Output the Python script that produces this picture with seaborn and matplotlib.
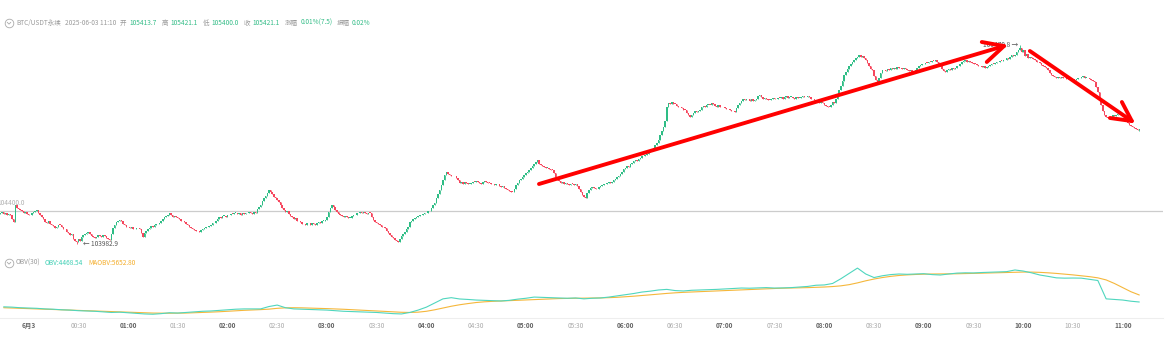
import numpy as np
import pandas as pd
import matplotlib
matplotlib.use("Agg")
import matplotlib.pyplot as plt
import seaborn as sns
from matplotlib.lines import Line2D

# ---------------- data ----------------
# 1-minute BTC/USDT perpetual candles, minutes counted from 2025-06-03 00:00
start_minute = -17
first_open = 104362.0
close_prices = [
    104375, 104390, 104368, 104380, 104355, 104362, 104345, 104300, 104262, 104470,
    104440, 104425, 104410, 104395, 104370, 104385, 104360,
    104352, 104345, 104370, 104390, 104405, 104415, 104380, 104350, 104320, 104300,
    104265, 104250, 104275, 104240, 104230, 104210, 104188, 104205, 104230, 104226,
    104200, 104170, 104180, 104140, 104120, 104101, 104110, 104050, 104030, 104010,
    104045, 104030, 104070, 104095, 104110, 104125, 104140, 104115, 104090, 104075,
    104064, 104080, 104100, 104085, 104070, 104095, 104089, 104060, 104045, 104039,
    104110, 104190, 104230, 104260, 104275, 104290, 104270, 104240, 104226, 104205,
    104195, 104188, 104200, 104180, 104170, 104190, 104185, 104176, 104120, 104075,
    104120, 104150, 104175, 104190, 104210, 104200, 104225, 104240, 104235, 104255,
    104270, 104300, 104320, 104335, 104350, 104380, 104350, 104330, 104340, 104320,
    104313, 104295, 104280, 104270, 104263, 104240, 104220, 104200, 104185, 104170,
    104163, 104150, 104145, 104139, 104160, 104175, 104188, 104200, 104195, 104215,
    104230, 104245, 104251, 104280, 104300, 104325, 104310, 104335, 104340, 104330,
    104350, 104345, 104365, 104360, 104375, 104380, 104365, 104370, 104355, 104372,
    104363, 104380, 104370, 104390, 104375, 104360, 104385, 104375, 104420, 104450,
    104480, 104520, 104560, 104590, 104620, 104660, 104640, 104610, 104580, 104560,
    104537, 104510, 104470, 104440, 104410, 104388, 104400, 104360, 104338, 104320,
    104300, 104310, 104280, 104270, 104263, 104240, 104235, 104226, 104245, 104250,
    104230, 104255, 104240, 104226, 104250, 104265, 104250, 104275, 104280, 104288,
    104330, 104390, 104440, 104470, 104450, 104410, 104390, 104360, 104350, 104335,
    104325, 104340, 104320, 104310, 104313, 104335, 104350, 104345, 104370, 104380,
    104388, 104370, 104390, 104375, 104360, 104380, 104375, 104330, 104290, 104263,
    104250, 104235, 104220, 104200, 104195, 104188, 104150, 104120, 104100, 104080,
    104064, 104040, 104030, 104014, 104050, 104085, 104110, 104139, 104170, 104200,
    104263, 104280, 104300, 104310, 104330, 104340, 104350, 104345, 104360, 104370,
    104380, 104395, 104400, 104440, 104470, 104500, 104560, 104610, 104661, 104720,
    104790, 104850, 104880, 104860, 104850, 104840, 104830, 104836, 104810, 104780,
    104749, 104760, 104740, 104755, 104750, 104735, 104736, 104750, 104765, 104760,
    104775, 104760, 104749, 104740, 104755, 104770, 104760, 104750, 104749, 104735,
    104730, 104724, 104740, 104730, 104715, 104700, 104705, 104686, 104670, 104665,
    104650, 104640, 104637, 104680, 104720, 104749, 104780, 104800, 104820, 104848,
    104870, 104890, 104910, 104930, 104960, 104990, 105010, 105030, 104990, 104975,
    104960, 104950, 104935, 104940, 104925, 104915, 104910, 104870, 104820, 104786,
    104770, 104750, 104760, 104736, 104745, 104730, 104720, 104740, 104735, 104725,
    104736, 104710, 104680, 104640, 104600, 104575, 104560, 104620, 104660, 104686,
    104700, 104690, 104670, 104680, 104700, 104711, 104720, 104740, 104730, 104750,
    104760, 104745, 104761, 104790, 104800, 104820, 104840, 104860, 104880, 104920,
    104935, 104960, 104950, 104980, 105000, 105020, 105035, 105025, 105050, 105060,
    105080, 105090, 105097, 105110, 105130, 105150, 105170, 105190, 105222, 105250,
    105290, 105340, 105400, 105450, 105520, 105700, 105740, 105730, 105760, 105735,
    105732, 105710, 105690, 105700, 105680, 105660, 105657, 105620, 105590, 105570,
    105600, 105620, 105640, 105630, 105650, 105657, 105690, 105710, 105700, 105720,
    105725, 105720, 105740, 105730, 105710, 105700, 105715, 105695, 105690, 105700,
    105680, 105670, 105665, 105657, 105640, 105650, 105633, 105680, 105720, 105750,
    105770, 105790, 105782, 105800, 105790, 105775, 105790, 105770, 105782, 105800,
    105830, 105844, 105820, 105800, 105810, 105790, 105785, 105782, 105800, 105810,
    105795, 105790, 105810, 105807, 105820, 105800, 105815, 105830, 105810, 105819,
    105825, 105810, 105800, 105815, 105805, 105807, 105820, 105830, 105815, 105825,
    105830, 105819, 105800, 105790, 105780, 105770, 105760, 105745, 105760, 105740,
    105720, 105710, 105700, 105695, 105720, 105760, 105745, 105800, 105850, 105906,
    105960, 106020, 106093, 106130, 106170, 106200, 106230, 106260, 106280, 106300,
    106320, 106342, 106320, 106330, 106305, 106280, 106240, 106200, 106170, 106155,
    106080, 106030, 106006, 106060, 106120, 106150, 106155, 106140, 106170, 106160,
    106175, 106165, 106180, 106170, 106190, 106175, 106185, 106170, 106180, 106165,
    106150, 106140, 106155, 106135, 106131, 106160, 106180, 106200, 106215, 106225,
    106230, 106245, 106240, 106260, 106255, 106270, 106265, 106280, 106260, 106230,
    106200, 106170, 106140, 106131, 106150, 106165, 106155, 106175, 106170, 106180,
    106200, 106210, 106230, 106250, 106265, 106280, 106260, 106270, 106250, 106240,
    106235, 106230, 106215, 106200, 106210, 106190, 106200, 106180, 106195, 106210,
    106220, 106235, 106230, 106243, 106260, 106250, 106270, 106265, 106275, 106280,
    106300, 106290, 106320, 106340, 106330, 106342, 106380, 106410, 106429, 106380,
    106400, 106330, 106350, 106310, 106320, 106300, 106290, 106280, 106260, 106250,
    106240, 106220, 106210, 106193, 106180, 106150, 106120, 106090, 106075, 106068,
    106060, 106070, 106055, 106065, 106050, 106056, 106045, 106060, 106050, 106040,
    106035, 106031, 106045, 106060, 106050, 106070, 106080, 106056, 106060, 106050,
    106040, 106030, 106020, 106006, 105950, 105880, 105782, 105720, 105650, 105595,
    105570, 105560, 105558, 105575, 105590, 105580, 105600, 105610, 105615, 105600,
    105580, 105570, 105520, 105490, 105470, 105455, 105440, 105430, 105420, 105413.7,
    105421.1,
]
high_minute, session_high = 598, 106470.8
low_minute, session_low = 29, 103982.9
last_low = 105400.0
ref_price = 104400.0

# OBV indicator, sampled every 5 minutes
obv_start, obv_step = -15, 5
obv_values = [
    3650, 3600, 3500, 3450, 3400, 3300, 3250, 3150, 3100, 3000,
    2950, 2900, 2800, 2700, 2750, 2650, 2550, 2450, 2400, 2500,
    2650, 2600, 2700, 2800, 2900, 2950, 3050, 3150, 3250, 3300,
    3300, 3300, 3700, 3950, 3500, 3300, 3250, 3200, 3150, 3100,
    3000, 2900, 2850, 2800, 2750, 2700, 2600, 2500, 2450, 2700,
    3100, 3600, 4300, 5000, 5200, 4980, 4900, 4800, 4750, 4700,
    4640, 4750, 4950, 5100, 5300, 5250, 5200, 5150, 5100, 5150,
    5000, 5100, 5150, 5300, 5500, 5700, 5900, 6150, 6300, 6500,
    6600, 6400, 6330, 6450, 6500, 6550, 6600, 6670, 6750, 6830,
    6800, 6850, 6900, 6830, 6850, 6900, 7000, 7100, 7300, 7350,
    7600, 8400, 9300, 10200, 9200, 8600, 8900, 9100, 9200, 9150,
    9200, 9250, 9100, 9030, 9200, 9350, 9400, 9380, 9450, 9500,
    9540, 9600, 9880, 9700, 9400, 9030, 8800, 8550, 8500, 8520,
    8500, 8300, 8100, 5000, 4900, 4800, 4600, 4468.54,
]
maobv_values = [
    3500, 3450, 3400, 3350, 3300, 3250, 3200, 3150, 3100, 3050,
    3000, 2950, 2900, 2850, 2800, 2750, 2700, 2650, 2600, 2580,
    2570, 2580, 2600, 2650, 2700, 2760, 2820, 2900, 2980, 3060,
    3120, 3180, 3260, 3400, 3480, 3500, 3480, 3440, 3400, 3350,
    3300, 3240, 3170, 3100, 3030, 2960, 2880, 2800, 2730, 2700,
    2750, 2900, 3150, 3450, 3750, 4000, 4200, 4380, 4500, 4580,
    4640, 4700, 4760, 4820, 4880, 4950, 5000, 5050, 5080, 5100,
    5120, 5140, 5160, 5200, 5260, 5350, 5450, 5560, 5680, 5800,
    5920, 6020, 6100, 6160, 6220, 6280, 6340, 6400, 6460, 6520,
    6580, 6640, 6700, 6750, 6800, 6830, 6860, 6900, 6950, 7000,
    7080, 7200, 7400, 7700, 8050, 8350, 8600, 8800, 8950, 9050,
    9120, 9170, 9200, 9210, 9220, 9240, 9270, 9300, 9340, 9380,
    9420, 9460, 9500, 9530, 9520, 9480, 9400, 9300, 9180, 9050,
    8900, 8750, 8550, 8200, 7600, 6900, 6200, 5652.80,
]

# hand-drawn trend arrows: (minute, price) vertices
trend_up_shaft = [(307.9, 104736), (588.4, 106454)]
trend_up_head = [(575.0, 106504), (588.4, 106454), (578.0, 106255)]
trend_down_shaft = [(604.0, 106392), (665.5, 105520)]
trend_down_head = [(659.5, 105757), (665.5, 105520), (652.3, 105558)]

tick_minutes = list(range(0, 661, 30))
tick_labels = ["6月3", "00:30", "01:00", "01:30", "02:00", "02:30", "03:00", "03:30",
               "04:00", "04:30", "05:00", "05:30", "06:00", "06:30", "07:00", "07:30",
               "08:00", "08:30", "09:00", "09:30", "10:00", "10:30", "11:00"]

header_parts = [
    ("BTC/USDT永续", "gray", 4), ("2025-06-03 11:10", "gray", 4),
    ("开", "gray", 2.5), ("105413.7", "green", 5),
    ("高", "gray", 2.5), ("105421.1", "green", 5),
    ("低", "gray", 2.5), ("105400.0", "green", 5),
    ("收", "gray", 2.5), ("105421.1", "green", 5),
    ("涨幅", "gray", 2.5), ("0.01%(7.5)", "green", 4),
    ("振幅", "gray", 2.5), ("0.02%", "green", 0),
]
obv_legend_parts = [("OBV(30)", "gray", 4), ("OBV:4468.54", "teal", 5), ("MAOBV:5652.80", "orange", 0)]

# ---------------- style ----------------
sns.set_theme(style="white")
FONT = ["Noto Sans CJK SC", "DejaVu Sans"]
plt.rcParams["font.family"] = FONT

GREEN = "#2ebd85"
RED = "#f6465d"
TEAL = "#4fd6be"
ORANGE = "#f5b73b"
GRAY = "#9a9a9a"
PALETTE = {"gray": GRAY, "green": "#35bd88", "teal": "#3fcfb4", "orange": "#f4ad2a"}
FS = 4.7

W, H = 1173, 341
fig = plt.figure(figsize=(W / 100, H / 100), dpi=100)
fig.patch.set_facecolor("white")

ax = fig.add_axes([0, 1 - 255 / H, 1163 / W, (255 - 18) / H])
axo = fig.add_axes([0, 1 - 318 / H, 1163 / W, (318 - 258) / H])

# ---------------- candles ----------------
close = np.asarray(close_prices, dtype=float)
open_ = np.concatenate([[first_open], close[:-1]])
minutes = np.arange(start_minute, start_minute + len(close))
high = np.maximum(open_, close)
low = np.minimum(open_, close)
high[minutes == high_minute] = session_high
low[minutes == low_minute] = session_low
low[-1] = last_low
rising = close >= open_
colors = np.where(rising, GREEN, RED)
body = np.maximum(np.abs(close - open_), 9)

ax.vlines(minutes, low, high, colors=colors, lw=0.6, zorder=2)
ax.bar(minutes, body, bottom=np.minimum(open_, close), width=0.9,
       color=colors, linewidth=0, zorder=3)

ax.axhline(ref_price, color="#cccccc", lw=0.9, zorder=1)
ax.annotate(f"{ref_price:.1f}", xy=(0, ref_price), xycoords=("axes fraction", "data"),
            xytext=(-1.5, 3.2), textcoords="offset points", ha="left", va="bottom",
            color="#b0b0b0", fontsize=FS)

ax.annotate(f"← {session_low:.1f}", xy=(low_minute, session_low), xytext=(4.5, 0),
            textcoords="offset points", ha="left", va="center", color="#555555", fontsize=FS)
ax.annotate(f"{session_high:.1f} →", xy=(high_minute, session_high), xytext=(-1.5, 0),
            textcoords="offset points", ha="right", va="center", color="#555555", fontsize=FS)

for seg in (trend_up_shaft, trend_up_head, trend_down_shaft, trend_down_head):
    xs, ys = zip(*seg)
    ax.plot(xs, ys, color="#ff0000", lw=2.8, solid_capstyle="round",
            solid_joinstyle="round", zorder=6)

ax.set_xlim(-17.2, 684.3)
ax.set_ylim(103852, 106803)
ax.set_xticks([])
ax.set_yticks([])
for s in ax.spines.values():
    s.set_visible(False)

# ---------------- OBV panel ----------------
obv_minutes = np.arange(obv_start, obv_start + obv_step * len(obv_values), obv_step)
obv_df = pd.DataFrame({"minute": obv_minutes, "OBV": obv_values, "MAOBV": maobv_values})
sns.lineplot(data=obv_df, x="minute", y="MAOBV", ax=axo, color=ORANGE, lw=0.8)
sns.lineplot(data=obv_df, x="minute", y="OBV", ax=axo, color=TEAL, lw=0.8)
axo.set_xlim(-17.2, 684.3)
axo.set_ylim(1764, 11905)
axo.set_xlabel("")
axo.set_ylabel("")
axo.set_yticks([])
axo.set_xticks(tick_minutes)
axo.set_xticklabels(tick_labels)
axo.tick_params(axis="x", length=0, pad=2.6, labelsize=FS)
for lbl in axo.get_xticklabels():
    if lbl.get_text().endswith(":30"):
        lbl.set_color("#aaaaaa")
    else:
        lbl.set_color("#666666")
        lbl.set_fontweight("bold")
for name, s in axo.spines.items():
    if name == "bottom":
        s.set_color("#eeeeee")
        s.set_linewidth(0.8)
    else:
        s.set_visible(False)

# ---------------- header texts ----------------
renderer = fig.canvas.get_renderer()


def text_run(x_px, y_px, parts):
    x = x_px
    for s, c, gap in parts:
        t = fig.text(x / W, 1 - y_px / H, s, color=PALETTE[c], fontsize=FS,
                     ha="left", va="center", family=FONT)
        x += t.get_window_extent(renderer).width + gap


def fold_icon(x_px, y_px):
    fig.add_artist(Line2D([x_px / W], [1 - y_px / H], transform=fig.transFigure,
                          marker="o", markersize=6.2, markerfacecolor="none",
                          markeredgecolor="#aaaaaa", markeredgewidth=0.6, linestyle="none"))
    fig.add_artist(Line2D([(x_px - 1.8) / W, x_px / W, (x_px + 1.8) / W],
                          [1 - (y_px - 0.7) / H, 1 - (y_px + 1.1) / H, 1 - (y_px - 0.7) / H],
                          transform=fig.transFigure, color="#aaaaaa", lw=0.6))


fold_icon(9, 23)
text_run(16, 23, header_parts)
fold_icon(9, 263)
text_run(16, 263, obv_legend_parts)

fig.savefig("out.png", dpi=100)
